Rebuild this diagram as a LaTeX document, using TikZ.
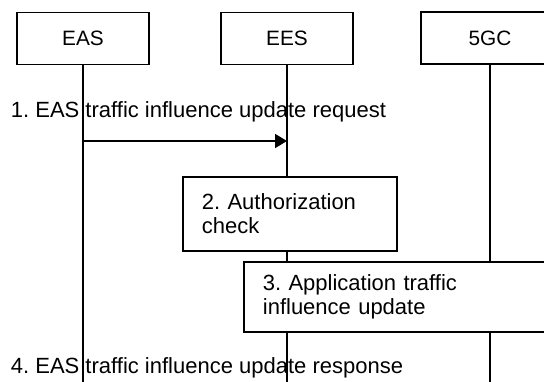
\documentclass[tikz,border=0pt]{standalone}
\usepackage{fontspec}
\setmainfont{Liberation Sans}
\usetikzlibrary{arrows.meta}
\frenchspacing
\begin{document}
\begin{tikzpicture}[x=1pt,y=-1pt,line width=1.8pt,
  txt/.style={font=\fontsize{22}{24.3}\selectfont},
  entity/.style={font=\fontsize{20.8}{24}\selectfont,draw,fill=white,minimum width=132pt,minimum height=52pt,inner sep=0pt},
  stepbox/.style={txt,draw,fill=white,anchor=north west,align=left,inner xsep=19pt,inner ysep=0pt},
  lbl/.style={txt,anchor=base west,inner sep=0pt},
  msg/.style={-{Triangle[length=12pt,width=14pt]}}]
\useasboundingbox (0,0) rectangle (544,381);
\begin{scope}
\clip (0,0) rectangle (544,381);
\coordinate (bottom) at (0,390);
\coordinate (m1) at (0,141);
\node[entity] (eas) at (83,38.5) {EAS};
\node[entity] (ees) at (287,38.5) {EES};
\node[entity,minimum width=138pt] (gc) at (490,38) {5GC};
\node[stepbox,text width=176pt,minimum height=74pt] (s2) at (182,176) {2. Authorization\\check};
\node[stepbox,text width=279pt,minimum height=70pt] (s3) at (243,261) {3. Application traffic\\influence update};
\draw (eas.south) -- (eas.south |- bottom);
\draw (ees.south) -- (ees.south |- s2.north);
\draw (ees.south |- s2.south) -- (ees.south |- s3.north);
\draw (ees.south |- s3.south) -- (ees.south |- bottom);
\draw (gc.south) -- (gc.south |- s3.north);
\draw (gc.south |- s3.south) -- (gc.south |- bottom);
\node[lbl] (l1) at (10,117.7) {1. EAS traffic influence update request};
\draw[msg] (eas.south |- m1) -- (ees.south |- m1);
\node[lbl] (l4) at (10,373.5) {4. EAS traffic influence update response};
\end{scope}
\end{tikzpicture}
\end{document}
